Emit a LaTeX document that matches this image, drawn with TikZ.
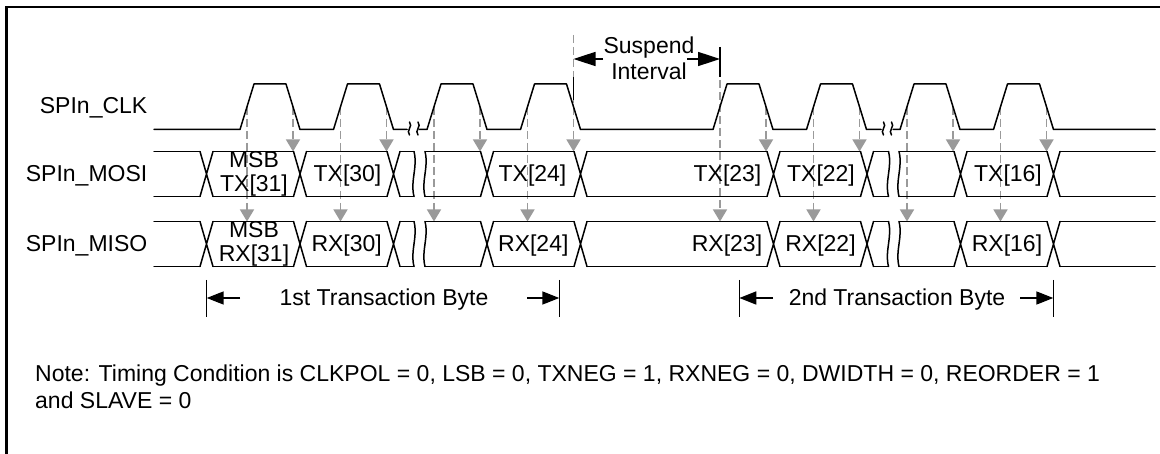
\documentclass[tikz,border=0pt]{standalone}
\usepackage{fontspec}
\setmainfont{Liberation Sans}
\usepackage{tikz}
\usetikzlibrary{arrows.meta,positioning,calc}
\definecolor{probeGray}{HTML}{9A9A9A}
\newcommand{\breakmark}[3]{%
  \draw[sig] (#1,#2) .. controls ({(#1)+4},{(#2)+0.35*((#3)-(#2))}) and ({(#1)-4},{(#2)+0.65*((#3)-(#2))}) .. (#1,#3);}

\begin{document}
\begin{tikzpicture}[
    x=1pt,y=-1pt,
    >=Latex,
    every node/.style={font=\fontsize{23}{24}\selectfont,inner sep=0pt},
    sig/.style={black,line width=1.5pt,line cap=round,line join=round},
    probe/.style={probeGray,line width=1.5pt,dash pattern=on 8pt off 4pt,-{Triangle[length=12pt,width=14pt]}},
    barTick/.style={black,line width=1.5pt},
    gapArrow/.style={black,line width=1.6pt,-{Triangle[length=22pt,width=14pt]}},
    byteArrow/.style={black,line width=1.6pt,-{Triangle[length=17pt,width=13pt]}}
  ]
  \def\clkHi{84}
  \def\clkLo{129.5}
  \useasboundingbox (0,0) rectangle (1160,454);
  \draw[line width=2.5pt] (6.5,454) -- (6.5,7) -- (1160,7);

  %% Sampling edges (falling -> MOSI, rising -> MISO)
  \foreach \s/\ftop/\rtop in {240/107/107,333.5/107/107,427/107/107,520.5/35/107,
                              713/107/80,806.5/107/107,900/107/107,993.5/107/107}{
    \draw[probe] (\s+53,\ftop) -- (\s+53,151.5);
    \draw[probe] (\s+7,\rtop) -- (\s+7,221.5);
  }

  %% Clock
  \draw[sig] (154,\clkLo)
    \foreach \s in {240,333.5}{ -- (\s,\clkLo) -- (\s+14,\clkHi) -- (\s+46,\clkHi) -- (\s+60,\clkLo) }
    -- (407,\clkLo);
  \draw[sig] (419,\clkLo)
    \foreach \s in {427,520.5,713,806.5}{ -- (\s,\clkLo) -- (\s+14,\clkHi) -- (\s+46,\clkHi) -- (\s+60,\clkLo) }
    -- (881,\clkLo);
  \draw[sig] (893,\clkLo)
    \foreach \s in {900,993.5}{ -- (\s,\clkLo) -- (\s+14,\clkHi) -- (\s+46,\clkHi) -- (\s+60,\clkLo) }
    -- (1155,\clkLo);
  \foreach \k in {409.5,418,883.5,891.5}{ \breakmark{\k}{122}{135} }

  %% Data buses
  \foreach \yc in {174,244}{
    \foreach \c in {206.5,300,393.5,487,580.5,773.5,867,960.5,1053.5}{
      \draw[sig] (\c-6.5,\yc-22.5) -- (\c+6.5,\yc+22.5) (\c-6.5,\yc+22.5) -- (\c+6.5,\yc-22.5);
    }
    \foreach \a/\b in {154/200,213/293.5,306.5/387,400/414,425/480.5,493.5/574,587/767,
                       780/860.5,873.5/888.5,899/954,967/1047,1060/1155}{
      \draw[sig] (\a,\yc-22.5) -- (\b,\yc-22.5) (\a,\yc+22.5) -- (\b,\yc+22.5);
    }
    \foreach \k in {414,425,888.5,899}{ \breakmark{\k}{\yc-22.5}{\yc+22.5} }
  }

  %% Signal names
  \node[anchor=base east] (clkName) at (147.5,113.3) {SPIn\_CLK};
  \node[anchor=base east] (mosiName) at (147.5,181.7) {SPIn\_MOSI};
  \node[anchor=base east] (misoName) at (147.5,251.7) {SPIn\_MISO};

  %% Bit labels
  \node[align=center] (txMsb) at (254,174.2) {MSB\\TX[31]};
  \node[align=center] (rxMsb) at (254,244.2) {MSB\\RX[31]};
  \foreach \nm/\x/\txt in {tx30/347.5/TX[30],tx24/532.5/TX[24],tx23/727.5/TX[23],tx22/821/TX[22],tx16/1008/TX[16]}
    \node[anchor=base] (\nm) at (\x,181.5) {\txt};
  \foreach \nm/\x/\txt in {rx30/346.7/RX[30],rx24/533.3/RX[24],rx23/727/RX[23],rx22/820.5/RX[22],rx16/1007/RX[16]}
    \node[anchor=base] (\nm) at (\x,251.5) {\txt};

  %% Suspend interval
  \coordinate (suspStart) at (573.5,59);
  \coordinate (suspEnd) at (720,59);
  \node[align=center,font=\fontsize{23}{26}\selectfont] (suspend) at (649,58) {Suspend\\Interval};
  \draw[barTick] ([yshift=-18pt]suspStart) -- ([yshift=-41pt]suspStart);
  \draw[barTick] ([yshift=12pt]suspEnd) -- ([yshift=-18pt]suspEnd);
  \draw[gapArrow] ([xshift=29.5pt]suspStart) -- (suspStart);
  \draw[gapArrow] ([xshift=-33pt]suspEnd) -- (suspEnd);

  %% Transaction bytes
  \coordinate (oneStart) at (206.7,298);
  \coordinate (oneEnd) at (559.3,298);
  \coordinate (twoStart) at (739.3,298);
  \coordinate (twoEnd) at (1053.3,298);
  \foreach \p in {oneStart,oneEnd,twoStart,twoEnd}
    \draw[barTick] ([yshift=18pt]\p) -- ([yshift=-19pt]\p);
  \node[anchor=base] (byteOne) at (384,305.5) {1st Transaction Byte};
  \node[anchor=base] (byteTwo) at (897,305.5) {2nd Transaction Byte};
  \draw[byteArrow] ([xshift=33.3pt]oneStart) -- (oneStart);
  \draw[byteArrow] ([xshift=-32.3pt]oneEnd) -- (oneEnd);
  \draw[byteArrow] ([xshift=33.7pt]twoStart) -- (twoStart);
  \draw[byteArrow] ([xshift=-33.3pt]twoEnd) -- (twoEnd);

  %% Note
  \node[anchor=base west] (note) at (35,382) {Note: Timing Condition is CLKPOL = 0, LSB = 0, TXNEG = 1, RXNEG = 0, DWIDTH = 0, REORDER = 1};
  \node[anchor=base west] (noteCont) at (35,408.3) {and SLAVE = 0};
\end{tikzpicture}
\end{document}
